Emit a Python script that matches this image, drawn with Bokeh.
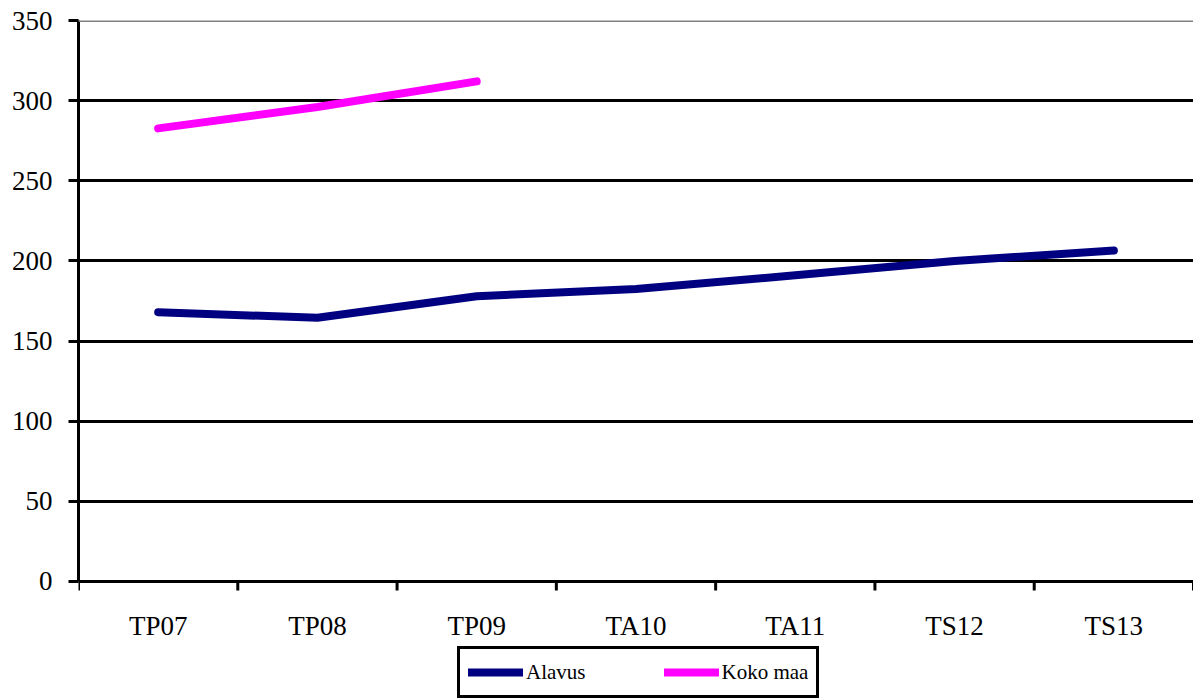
import math
from bokeh.plotting import figure
from bokeh.models import Range1d, FixedTicker, Span, Legend, LegendItem
from bokeh.core.properties import value
from bokeh.embed import file_html
from bokeh.resources import INLINE

categories = ["TP07", "TP08", "TP09", "TA10", "TA11", "TS12", "TS13"]
alavus = [168, 164.5, 178, 182.5, 191, 200, 206.5]
koko_maa = [282.7, 296, 312]
y_ticks = [0, 50, 100, 150, 200, 250, 300, 350]

FONT = "Liberation Serif"

# frame reaches the bottom of the page; y=0 sits 117 px above it
p = figure(width=1193, height=698, output_backend="svg", toolbar_location=None,
           x_range=Range1d(0, len(categories)), y_range=Range1d(-73, 350),
           min_border_left=78, min_border_right=0, min_border_top=20, min_border_bottom=0)
p.outline_line_color = None
p.background_fill_color = "white"
p.border_fill_color = "white"

x_centers = [i + 0.5 for i in range(len(categories))]
x_bounds = list(range(len(categories) + 1))
x_al = x_centers[:len(alavus)]
x_km = x_centers[:len(koko_maa)]

# grid
p.xgrid.visible = False
p.ygrid.ticker = FixedTicker(ticks=y_ticks[:-1])
p.ygrid.grid_line_color = "black"
p.ygrid.grid_line_width = 3
p.ygrid.bounds = (0, len(categories))
top_line = Span(location=y_ticks[-1], dimension="width", line_color="#808080", line_width=3)
p.add_layout(top_line)

r_al = p.line(x_al, alavus, line_color="#000080", line_width=8, line_cap="round", line_join="round")
r_km = p.line(x_km, koko_maa, line_color="#FF00FF", line_width=8, line_cap="round", line_join="round")

# category axis (ticks between categories, labels centred)
p.xaxis.visible = False
p.ray(x=x_bounds, y=[0] * len(x_bounds), length=9, length_units="screen",
      angle=-math.pi / 2, line_color="black", line_width=3)
p.text(x=x_centers, y=[0] * len(x_centers), text=categories, y_offset=45,
       text_align="center", text_baseline="middle", text_font=value(FONT),
       text_font_size="27px", text_color="black")

ya = p.yaxis[0]
ya.bounds = (0, 350)
ya.ticker = FixedTicker(ticks=y_ticks)
ya.major_tick_out = 10
ya.major_tick_in = 0
ya.major_tick_line_width = 3
ya.major_tick_line_color = "black"
ya.minor_tick_out = 0
ya.minor_tick_in = 0
ya.axis_line_width = 3
ya.axis_line_color = "black"
ya.major_label_text_font = FONT
ya.major_label_text_font_size = "27px"
ya.major_label_text_color = "black"
ya.major_label_standoff = 16

legend = Legend(items=[LegendItem(label="Alavus", renderers=[r_al]),
                       LegendItem(label="Koko maa", renderers=[r_km])],
                orientation="horizontal", location=(379, 0),
                border_line_color="black", border_line_width=3, border_line_alpha=1,
                background_fill_color="white", background_fill_alpha=1,
                label_text_font=FONT, label_text_font_size="21px", label_text_color="black",
                glyph_width=55, glyph_height=30, label_standoff=3,
                spacing=78, padding=8, margin=0)
p.add_layout(legend, "center")

open("out.html", "w").write(file_html(p, INLINE))
